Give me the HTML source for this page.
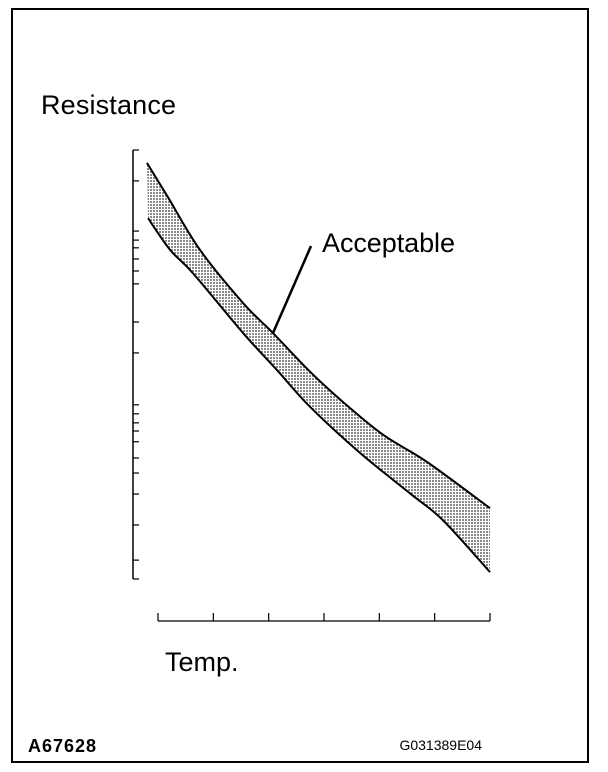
<!DOCTYPE html>
<html><head><meta charset="utf-8"><style>
html,body{margin:0;padding:0;background:#fff;}
svg{display:block;font-family:"Liberation Sans",sans-serif;}
</style></head><body>
<svg width="608" height="772" viewBox="0 0 608 772">
<defs>
<pattern id="dots" width="3" height="3" patternUnits="userSpaceOnUse">
<rect width="3" height="3" fill="#fff"/><rect width="2" height="2" fill="#8a8a8a"/>
</pattern>
</defs>
<rect x="12" y="9" width="576" height="753" fill="none" stroke="#000" stroke-width="2"/>
<text x="41" y="114" font-size="27" textLength="135">Resistance</text>
<text x="165" y="671" font-size="27">Temp.</text>
<text x="28" y="752" font-size="18" font-weight="bold" textLength="68">A67628</text>
<text x="482" y="750" font-size="14" text-anchor="end">G031389E04</text>
<g id="plot"></g>
<text x="322" y="252" font-size="27" textLength="133">Acceptable</text>
<line x1="311" y1="246" x2="273" y2="333" stroke="#000" stroke-width="2.5"/>
</svg>
<script>
const upperX=[-0.2,0.18,0.76,1.54,2.08,2.75,3.34,4.07,4.86,6];
const upperY=[97,89,76.7,64.3,57.3,48.3,41.3,33.6,27.3,16.5];
const lowerX=[-0.18,0.22,0.63,1.54,2.15,2.75,3.65,4.55,5.15,6];
const lowerY=[84.1,76.7,71.3,57.3,48.7,40.1,29.4,20.0,13.7,1.6];
const xTicks=[0,1,2,3,4,5,6];
const yTicks=[100,92.8,81.1,79,77.2,74.6,71.8,68.8,59.9,52.7,40.6,38.5,36.4,34.5,32,28.2,24.7,19.8,12.6,4.4,0];
const X=v=>158+v*(490-158)/6;
const Y=v=>579-v*(579-150)/100;
const NS="http://www.w3.org/2000/svg";
const g=document.getElementById('plot');
function mk(t,a){const e=document.createElementNS(NS,t);for(const k in a)e.setAttribute(k,a[k]);g.appendChild(e);return e;}
function smooth(p){let d='';for(let i=0;i<p.length-1;i++){const p0=p[i-1]||p[i],p1=p[i],p2=p[i+1],p3=p[i+2]||p2;
const c1=[p1[0]+(p2[0]-p0[0])/6,p1[1]+(p2[1]-p0[1])/6],c2=[p2[0]-(p3[0]-p1[0])/6,p2[1]-(p3[1]-p1[1])/6];
d+=' C'+c1+' '+c2+' '+p2;}return d;}
const up=upperX.map((x,i)=>[X(x),Y(upperY[i])]);
const lo=lowerX.map((x,i)=>[X(x),Y(lowerY[i])]);
const loR=lo.slice().reverse();
const band=mk('path',{d:'M'+up[0]+smooth(up)+' L'+loR[0]+smooth(loR)+' Z',fill:'url(#dots)',stroke:'none'});


const ul=mk('path',{d:'M'+up[0]+smooth(up),fill:'none',stroke:'#000','stroke-width':2});


const ll=mk('path',{d:'M'+lo[0]+smooth(lo),fill:'none',stroke:'#000','stroke-width':2});


const ya=mk('line',{x1:133,y1:Y(100),x2:133,y2:Y(0),stroke:'#000','stroke-width':1.5});


yTicks.forEach(t=>{const e=mk('line',{x1:133,y1:Y(t),x2:139,y2:Y(t),stroke:'#000','stroke-width':1.2});

});
const xa=mk('line',{x1:X(0),y1:621,x2:X(6),y2:621,stroke:'#000','stroke-width':1.2});


xTicks.forEach(t=>{const e=mk('line',{x1:X(t),y1:613,x2:X(t),y2:621,stroke:'#000','stroke-width':1.2});

});
</script>
</body></html>
